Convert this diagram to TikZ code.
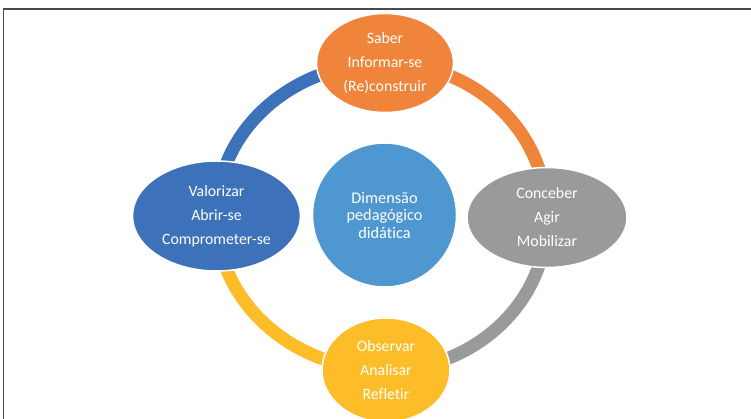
\documentclass[tikz,border=0pt]{standalone}
\usepackage{fontspec}
\setmainfont{Carlito}[Ligatures=NoCommon]
\usetikzlibrary{shapes.geometric,backgrounds}
\definecolor{laranja}{HTML}{F0843A}
\definecolor{cinza}{HTML}{999B9B}
\definecolor{amarelo}{HTML}{FDBD28}
\definecolor{azul}{HTML}{3D71BA}
\definecolor{azulclaro}{HTML}{4F97D1}
\definecolor{moldura}{HTML}{4A4A4A}
\tikzset{
  etapa/.style={ellipse, draw=white, line width=1.5pt, inner sep=0pt,
    text=white, align=center, font=\fontsize{15.8}{24}\selectfont},
  anel/.style={line width=13pt}
}
\begin{document}
\begin{tikzpicture}[x=1pt, y=1pt]
    \useasboundingbox (0, 0) rectangle (751, 419);
      %%moldura
      \draw[moldura, line width=1.3pt](3.5, 0) -- (3.5, 410) -- (751, 410);

      %%centro
      \node[circle, fill=azulclaro, draw=white, line width=1.5pt, inner sep=0pt,
        minimum size=144pt, text=white, align=center,
        font=\fontsize{16.3}{17.5}\selectfont]
        (dimensao) at (384.5, 204) {Dimensão\\pedagógico\\didática};

      %%etapas
      \node[etapa, fill=laranja, minimum width=137pt, minimum height=99pt]
        (saber) at (385, 356) {Saber\\Informar-se\\(Re)construir};
      \node[etapa, fill=cinza, minimum width=160pt, minimum height=100pt]
        (conceber) at (547, 201.5) {Conceber\\Agir\\Mobilizar};
      \node[etapa, fill=amarelo, minimum width=128pt, minimum height=104pt]
        (observar) at (386, 49) {Observar\\Analisar\\Refletir};
      \node[etapa, fill=azul, minimum width=168pt, minimum height=110pt]
        (valorizar) at (216.5, 203) {Valorizar\\Abrir-se\\Comprometer-se};

      %%anel
      \begin{scope}[on background layer]
        \draw[anel, laranja](saber.center) to[out=0, in=90] (conceber.center);
        \draw[anel, cinza](conceber.center) to[out=-90, in=0] (observar.center);
        \draw[anel, amarelo](observar.center) to[out=180, in=-90] (valorizar.center);
        \draw[anel, azul](valorizar.center) to[out=90, in=180] (saber.center);
      \end{scope}
\end{tikzpicture}
\end{document}
